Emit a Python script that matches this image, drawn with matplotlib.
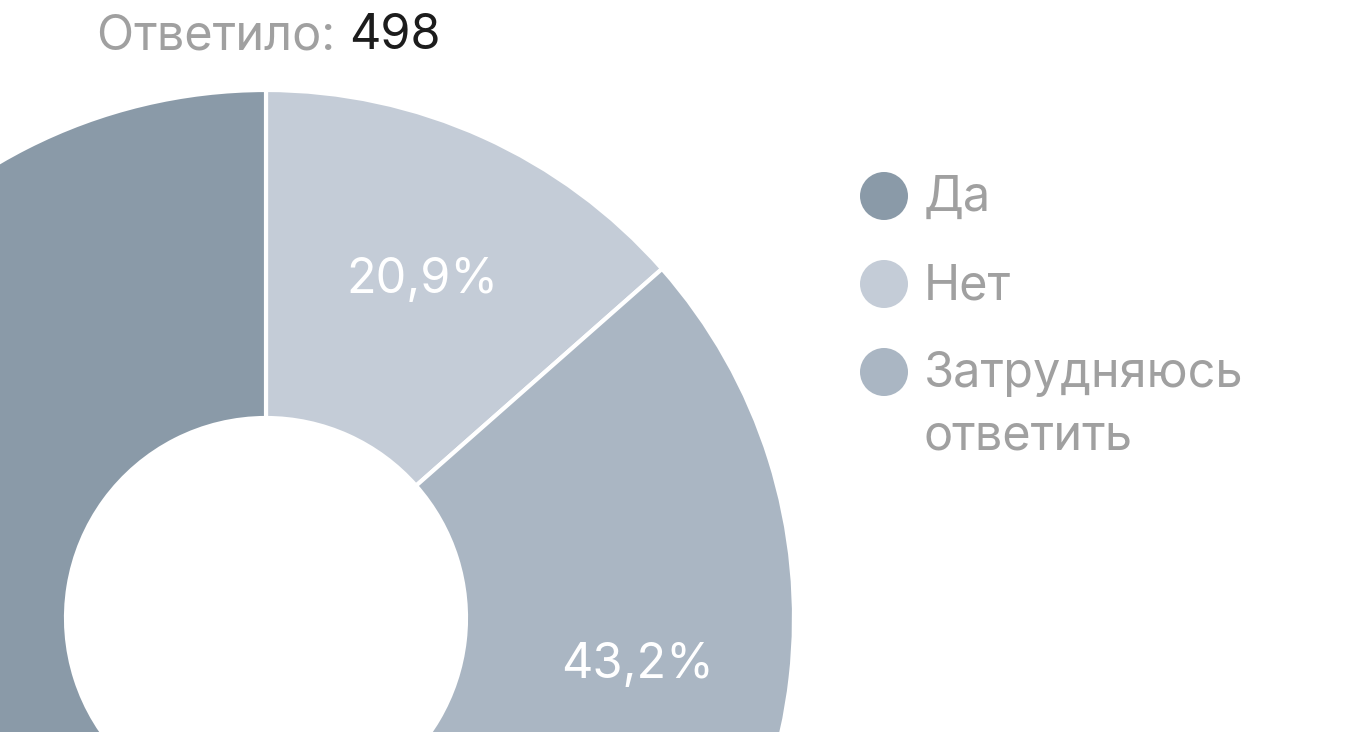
import numpy as np
import matplotlib
matplotlib.use("Agg")
import matplotlib.pyplot as plt

# ── Data ──────────────────────────────────────────────────────────────────────
categories = ["Да", "Нет", "Затрудняюсь\nответить"]
# slice sizes as drawn in the picture (share of the circle, %)
shares = [59.9, 13.5, 26.6]
# percentage labels printed on the slices (the "Да" one is off-canvas)
pct_labels = [None, "20,9%", "43,2%"]
colors = ["#8a9aa8", "#c4ccd7", "#aab6c3"]
answered = 498

plt.rcParams["font.family"] = ["Inter", "DejaVu Sans"]

W, H = 1360, 732
fig = plt.figure(figsize=(W / 100, H / 100), dpi=100)
ax = fig.add_axes([0, 0, 1, 1])

# pie drawn clockwise from 12 o'clock: Нет, Затрудняюсь, Да
order = [1, 2, 0]
cx, cy, R, r_in = 266, H - 618, 528, 200
wedges, _ = ax.pie(
    [shares[i] for i in order],
    colors=[colors[i] for i in order],
    startangle=90, counterclock=False,
    center=(cx, cy), radius=R,
    wedgeprops=dict(width=R - r_in, edgecolor="white", linewidth=3),
)

# labels in the middle of each ring segment
for w, i in zip(wedges, order):
    if pct_labels[i] is None:
        continue
    mid = np.deg2rad((w.theta1 + w.theta2) / 2 - 0.5)
    rr = (R + r_in) / 2 + 10
    ax.text(cx + rr * np.cos(mid), cy + rr * np.sin(mid) - 2, pct_labels[i],
            color="white", fontsize=35, ha="center", va="center")

ax.set_xlim(0, W)
ax.set_ylim(0, H)
ax.axis("off")

# ── Title ────────────────────────────────────────────────────────────────────
t1 = ax.text(97, H - 49, "Ответило: ", color="#a0a0a0", fontsize=35,
             ha="left", va="baseline")
ax.annotate(str(answered), xy=(1, 0), xycoords=t1, color="#1c1c1c",
            fontsize=35, ha="left", va="bottom")

# ── Legend ───────────────────────────────────────────────────────────────────
leg_y = [H - 196, H - 284, H - 372]
for y, lab, c in zip(leg_y, categories, colors):
    ax.scatter([884], [y], s=1195, color=c, edgecolors="none")
    ax.text(924, y + 21, lab, color="#a0a0a0", fontsize=35,
            ha="left", va="top", linespacing=1.45)

fig.savefig("out.png", dpi=100)
